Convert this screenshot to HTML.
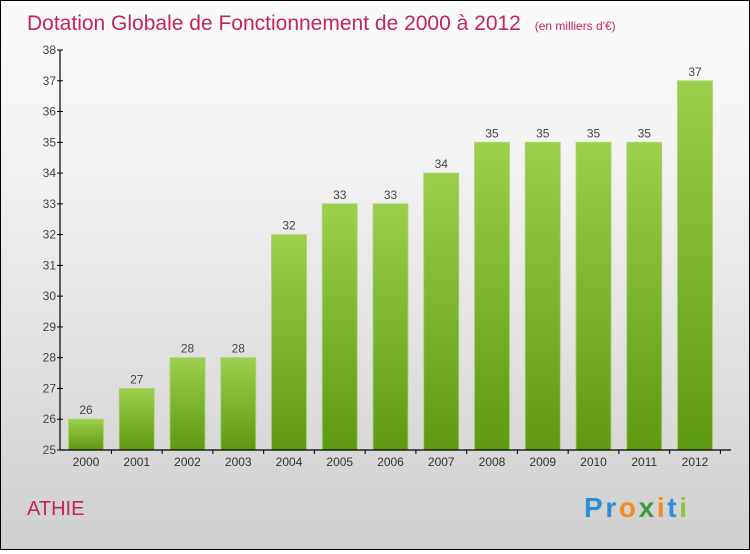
<!DOCTYPE html>
<html><head><meta charset="utf-8"><style>
html,body{margin:0;padding:0}
body{width:750px;height:550px;overflow:hidden;font-family:"Liberation Sans",sans-serif}
#wrap{position:relative;width:748px;height:548px;border:1px solid #000;background:linear-gradient(#fbfbfb,#f2f2f2 30%,#cfcfcf)}
</style></head><body>
<div id="wrap">
<svg id="chart" width="748" height="548">
<defs><linearGradient id="g" x1="0" y1="0" x2="0" y2="1"><stop offset="0" stop-color="#9dcf4c"/><stop offset="1" stop-color="#5e9912"/></linearGradient></defs>
<text x="26" y="29" font-size="21" fill="#c2255c">Dotation Globale de Fonctionnement de 2000 à 2012 <tspan font-size="12" dx="8">(en milliers d'€)</tspan></text>
<text x="26" y="514" font-size="20" fill="#c2255c">ATHIE</text>
<text x="583" y="516" font-size="28" font-weight="bold" textLength="103" lengthAdjust="spacing"><tspan fill="#2d8ed6">Pr</tspan><tspan fill="#f28c1a">o</tspan><tspan fill="#3a9c3a">x</tspan><tspan fill="#f28c1a">i</tspan><tspan fill="#2d8ed6">t</tspan><tspan fill="#8bc53f">i</tspan></text>
<g id="plot"></g>
</svg>
</div>
<script>
const categories=["2000","2001","2002","2003","2004","2005","2006","2007","2008","2009","2010","2011","2012"];
const values=[26,27,28,28,32,33,33,34,35,35,35,35,37];
const yTicks=[25,26,27,28,29,30,31,32,33,34,35,36,37,38];
const yMin=25,yMax=38,plotTop=49,plotBottom=449,axisX=59;
const y=v=>plotBottom-(v-yMin)/(yMax-yMin)*(plotBottom-plotTop);
const x=i=>85+i*50.75;
const ns="http://www.w3.org/2000/svg";
const g=document.getElementById('plot');
function mk(t,a,txt){const e=document.createElementNS(ns,t);for(const k in a)e.setAttribute(k,a[k]);if(txt!=null)e.textContent=txt;g.appendChild(e);return e;}
values.forEach((v,i)=>{
 const r=mk('rect',{x:x(i)-17.5,y:y(v),width:35,height:plotBottom-y(v),fill:'url(#g)',stroke:'#a8d66a','stroke-width':0.8});
 
 
 const l=mk('text',{x:x(i),y:y(v)-5,'font-size':12,fill:'#444','text-anchor':'middle'},String(v));
 
 
 const c=mk('text',{x:x(i),y:plotBottom+16,'font-size':12,fill:'#333','text-anchor':'middle'},categories[i]);
 
 
});
yTicks.forEach(t=>{
 mk('line',{x1:axisX-3,x2:axisX+3,y1:y(t),y2:y(t),stroke:'#000'});
 const l=mk('text',{x:axisX-4,y:y(t)+4,'font-size':12,fill:'#444','text-anchor':'end'},String(t));
 
 
});
const ya=mk('line',{x1:axisX,x2:axisX,y1:plotTop,y2:plotBottom,stroke:'#000','stroke-width':1.2});


const xa=mk('line',{x1:axisX,x2:730,y1:plotBottom,y2:plotBottom,stroke:'#000','stroke-width':1.2});


categories.forEach((c,i)=>mk('line',{x1:x(i)+25.4,x2:x(i)+25.4,y1:plotBottom,y2:plotBottom+4,stroke:'#000'}));
</script>
</body></html>
